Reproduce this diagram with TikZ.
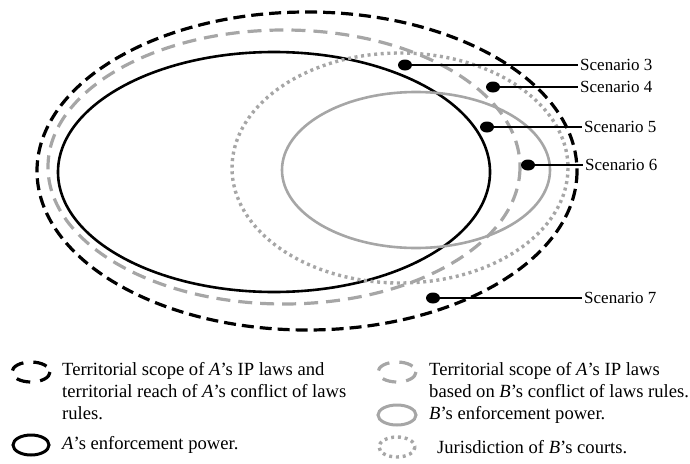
\documentclass[tikz,border=0pt]{standalone}
\usepackage{fontspec}
\setmainfont{Liberation Serif}
\usetikzlibrary{shapes.geometric}
\definecolor{lightgrey}{HTML}{A6A6A6}
\begin{document}
\begin{tikzpicture}[x=1pt,y=-1pt,
  reachA/.style={line width=3.2pt, dash pattern=on 12pt off 6pt},
  reachB/.style={line width=3.2pt, lightgrey, dash pattern=on 14pt off 8pt},
  powerA/.style={line width=2.6pt},
  powerB/.style={line width=2.6pt, lightgrey},
  courtsB/.style={line width=3.4pt, lightgrey, dash pattern=on 3pt off 3.6pt},
  scdot/.style={ellipse, fill, inner sep=0pt, minimum width=14pt, minimum height=11pt},
  sclabel/.style={anchor=west, inner sep=2pt, font=\fontsize{17}{20}\selectfont},
  legtext/.style={anchor=west, inner sep=0pt, align=left, font=\fontsize{18.6}{22}\selectfont}]
\useasboundingbox (0,0) rectangle (690,463);
% the five areas
\draw [reachA] (307,171) ellipse [x radius=270, y radius=159];
\draw [reachB] (284,167) ellipse [x radius=236, y radius=137];
\draw [powerA] (274,172) ellipse [x radius=216, y radius=120];
\draw [courtsB] (400,168) ellipse [x radius=168, y radius=115];
\draw [powerB] (416,170) ellipse [x radius=134, y radius=78];
% scenarios
\node (d3) [scdot] at (405,65) {};
\node (d4) [scdot] at (493,87) {};
\node (d5) [scdot] at (487,127) {};
\node (d6) [scdot] at (528,165) {};
\node (d7) [scdot] at (433,298) {};
\node (s3) [sclabel] at (578,65) {Scenario 3};
\node (s4) [sclabel] at (578,87) {Scenario 4};
\node (s5) [sclabel] at (582,127) {Scenario 5};
\node (s6) [sclabel] at (583,165) {Scenario 6};
\node (s7) [sclabel] at (582,298) {Scenario 7};
\foreach \i in {3,...,7}
  \draw [line width=2.5pt] (d\i.center) -- (s\i.west);
% legend
\draw [reachA, dash pattern=on 14pt off 10pt] (31,372) ellipse [x radius=19, y radius=10];
\draw [powerA, line width=3pt] (31,445) ellipse [x radius=18, y radius=10];
\draw [reachB, dash pattern=on 14pt off 10pt] (397,372) ellipse [x radius=19, y radius=10];
\draw [powerB, line width=3pt] (397,415) ellipse [x radius=19, y radius=10];
\draw [courtsB, dash pattern=on 3pt off 3.8pt] (397,447) ellipse [x radius=18, y radius=10];
\node (l1) [legtext, anchor=north west] at (62,362) {Territorial scope of \textit{A}’s IP laws and\\territorial reach of \textit{A}’s conflict of laws\\rules.};
\node (l2) [legtext] at (62,445) {\textit{A}’s enforcement power.};
\node (l3) [legtext, anchor=north west] at (429,362) {Territorial scope of \textit{A}’s IP laws\\based on \textit{B}’s conflict of laws rules.};
\node (l4) [legtext] at (429,415) {\textit{B}’s enforcement power.};
\node (l5) [legtext] at (437,447) {Jurisdiction of \textit{B}’s courts.};
\end{tikzpicture}
\end{document}
